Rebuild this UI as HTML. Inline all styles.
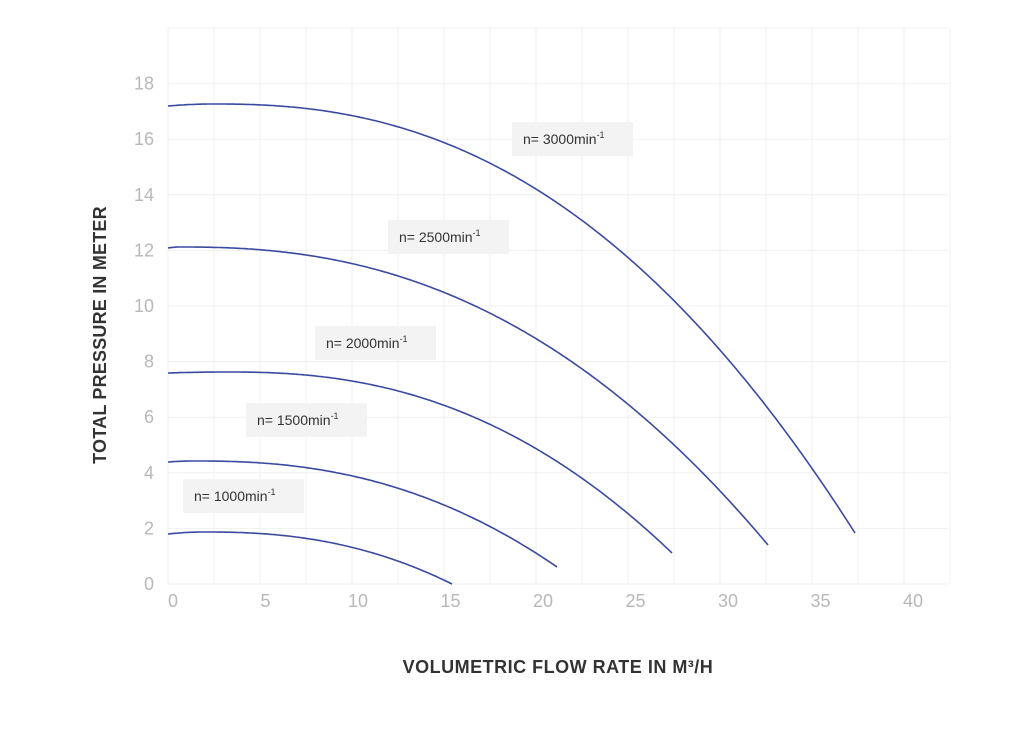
<!DOCTYPE html>
<html><head><meta charset="utf-8"><style>
body{margin:0;background:#fff;width:1024px;height:724px;overflow:hidden;font-family:"Liberation Sans",sans-serif}
</style></head><body>
<svg id="s" width="1024" height="724" xmlns="http://www.w3.org/2000/svg" font-family="Liberation Sans, sans-serif">
<g id="grid" stroke="#f0f0f0" stroke-width="1"></g>
<g id="curves" fill="none" stroke="#3a4aa0" stroke-width="1.6"></g>
<g font-size="18" fill="#b8b8b8" text-anchor="end" id="yl"></g>
<g font-size="18" fill="#b8b8b8" text-anchor="middle" id="xl"></g>
<g id="lab" font-size="14" fill="#333"></g>
<text x="558" y="673" text-anchor="middle" font-size="18" font-weight="bold" fill="#333" letter-spacing="0.5">VOLUMETRIC FLOW RATE IN M³/H</text>
<text transform="translate(106,335) rotate(-90)" text-anchor="middle" font-size="18" font-weight="bold" fill="#333" letter-spacing="0.2">TOTAL PRESSURE IN METER</text>
</svg>
<script>
var NS="http://www.w3.org/2000/svg";
function el(p,t,a,txt){var e=document.createElementNS(NS,t);for(var k in a)e.setAttribute(k,a[k]);if(txt)e.textContent=txt;document.getElementById(p).appendChild(e);return e;}
for(var x=168;x<=950;x+=46)el("grid","line",{x1:x,y1:28,x2:x,y2:584});
for(var i=0;i<=10;i++){var y=584-i*55.6;el("grid","line",{x1:168,y1:y,x2:948,y2:y});}
for(var i=0;i<=9;i++){el("yl","text",{x:154,y:590-i*55.6},String(i*2));}
for(var i=0;i<=8;i++){el("xl","text",{x:173+i*92.5,y:607},String(i*5));}
var C=[[168,106,104,214,855,533],[168,248,247,180,768,545],[168,373,372,228,672,553],[168,462,461,195,557,567],[168,534,532,205,452,584]];
C.forEach(function(c){var x0=c[0],y0=c[1],ymin=c[2],xp=c[3],xe=c[4],ye=c[5],p=2.35;
 var d="";for(var x=x0;x<=xe;x+=2){var y;if(x<xp){y=ymin+(y0-ymin)*Math.pow((xp-x)/(xp-x0),2);}else{y=ymin+(ye-ymin)*Math.pow((x-xp)/(xe-xp),p);}d+=(d?"L":"M")+x+" "+y.toFixed(1);}
 d+="L"+xe+" "+ye;el("curves","path",{d:d});});
var L=[[512,122,"3000"],[388,220,"2500"],[315,326,"2000"],[246,403,"1500"],[183,479,"1000"]];
L.forEach(function(l){el("lab","rect",{x:l[0],y:l[1],width:121,height:34,fill:"#f3f3f3"});
 var t=el("lab","text",{x:l[0]+11,y:l[1]+22},"n= "+l[2]+"min");var ts=document.createElementNS(NS,"tspan");ts.setAttribute("dy","-6");ts.setAttribute("font-size","9");ts.textContent="-1";t.appendChild(ts);});
</script>
</body></html>
